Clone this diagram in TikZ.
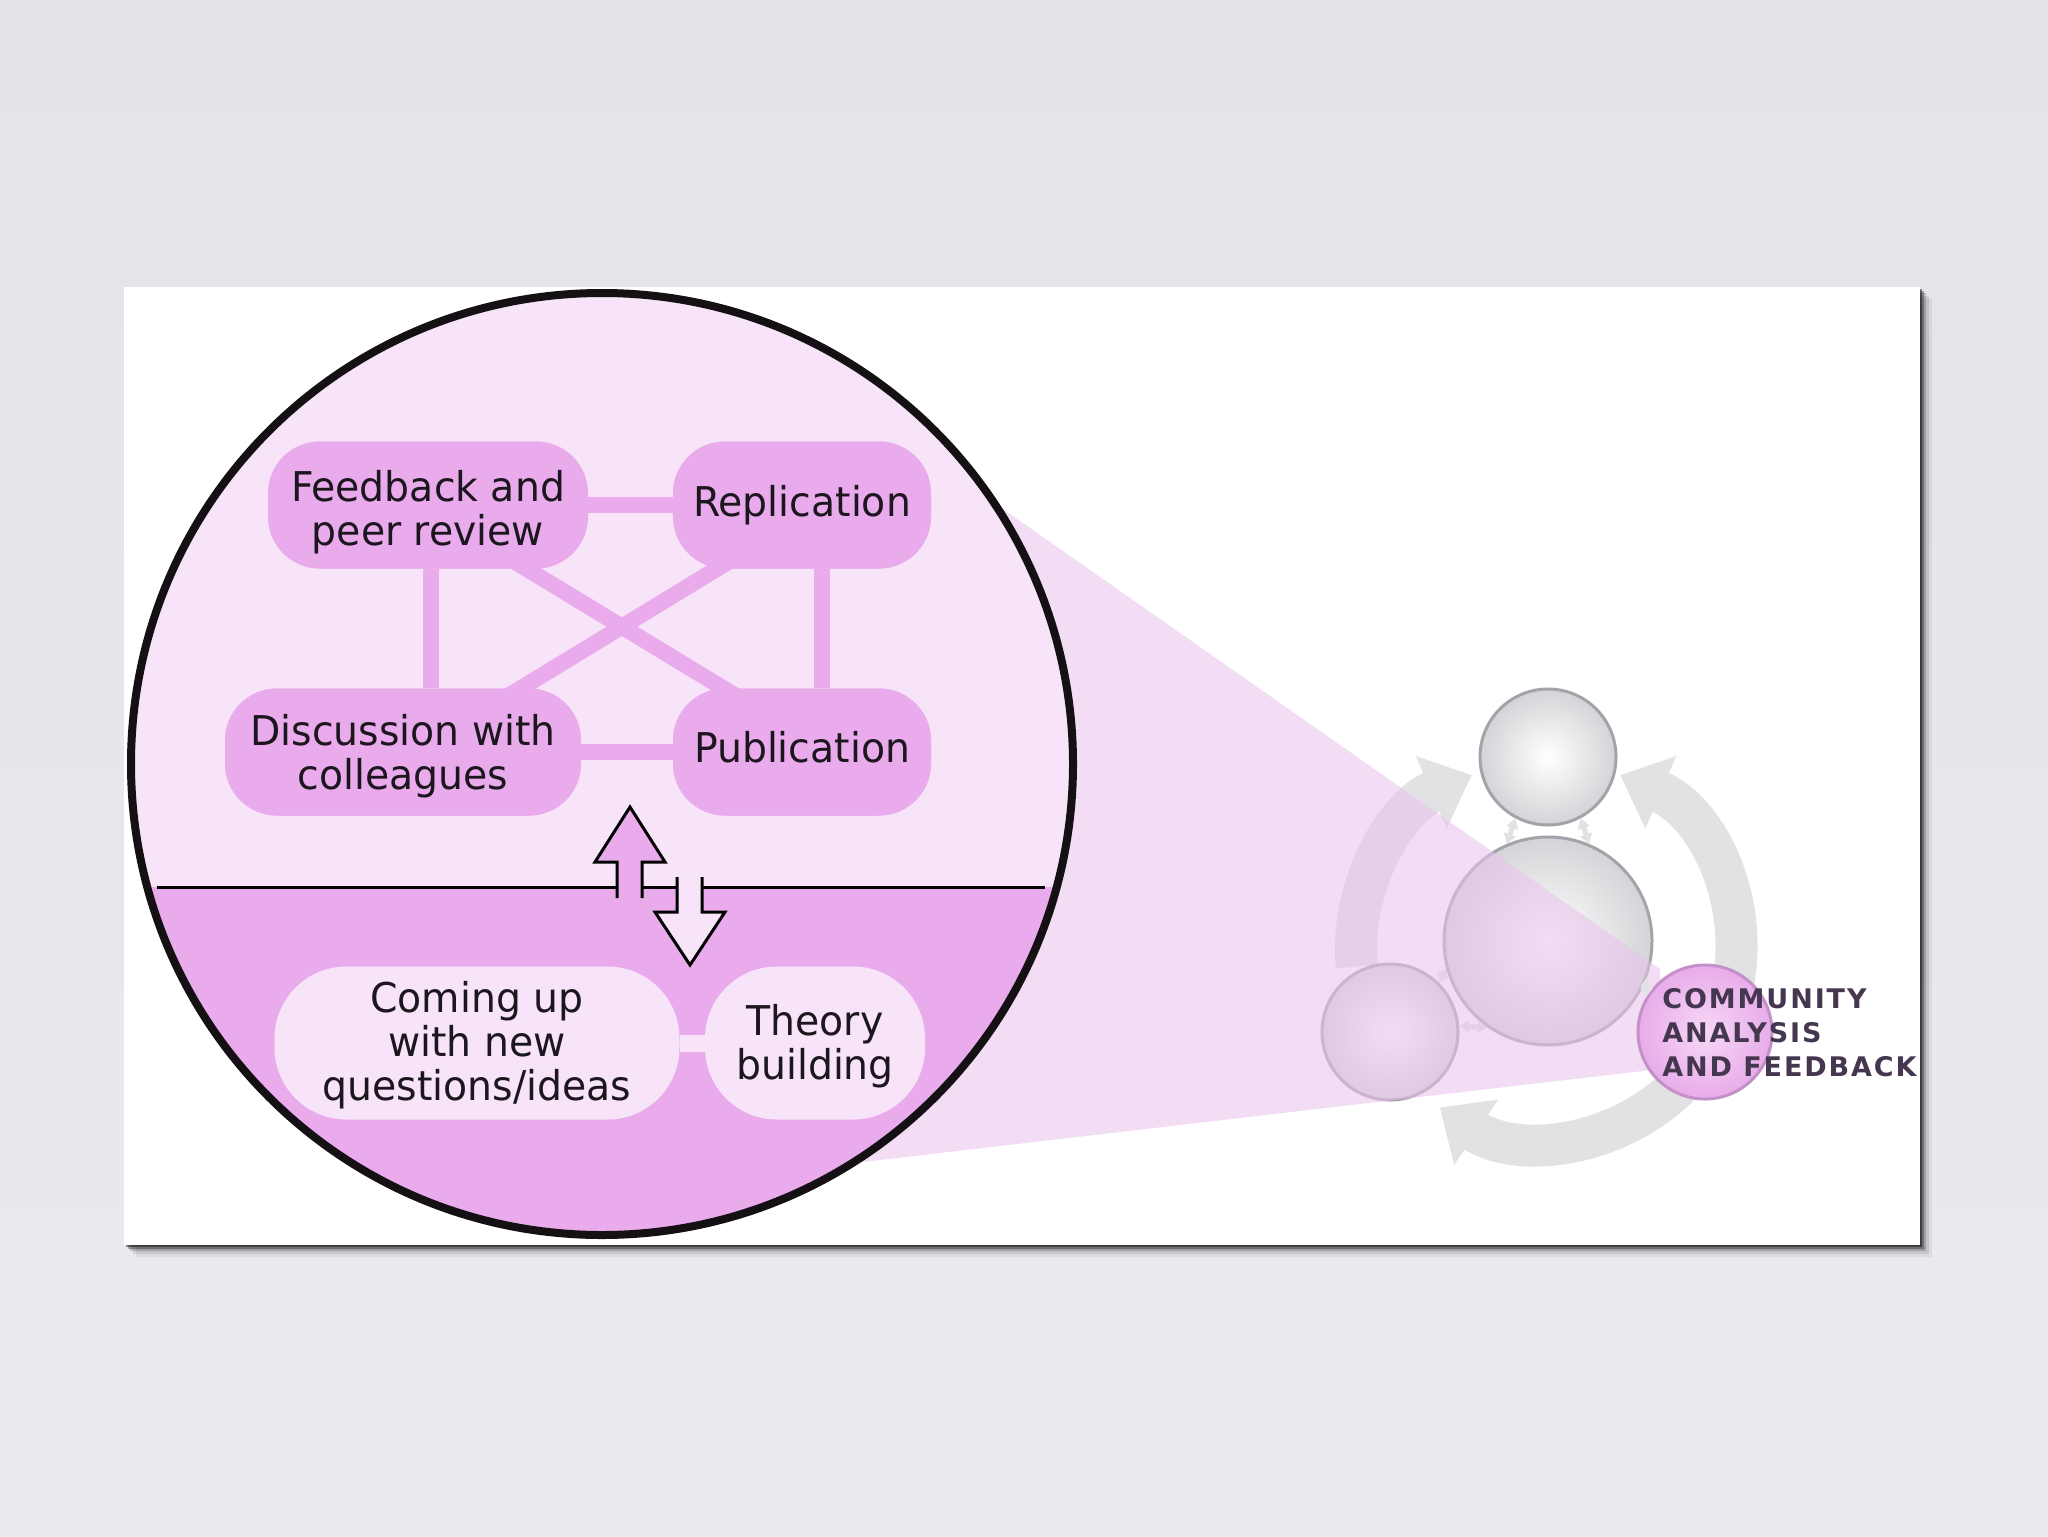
\documentclass[tikz,border=0pt]{standalone}
\usepackage{fontspec}
\setmainfont[FakeStretch=0.96]{DejaVu Sans}
\newfontfamily\labfont[LetterSpace=7]{DejaVu Sans}
\usetikzlibrary{arrows.meta,calc}
\definecolor{pinkD}{RGB}{234,171,236}
\definecolor{pinkL}{RGB}{247,228,248}
\definecolor{txt}{RGB}{28,22,30}
\definecolor{ringc}{RGB}{226,226,229}
\definecolor{wedgec}{RGB}{234,194,237}
\definecolor{circline}{RGB}{165,163,170}
\definecolor{labc}{RGB}{70,55,80}
\definecolor{bgT}{RGB}{226,228,232}
\definecolor{bgM}{RGB}{239,240,243}
\definecolor{bgB}{RGB}{233,235,238}
\definecolor{ballout}{RGB}{212,212,216}
\definecolor{comIn}{RGB}{246,215,246}
\definecolor{comOut}{RGB}{232,172,234}
\definecolor{comLine}{RGB}{195,145,200}
\newcommand{\mylbl}[2]{\raisebox{#1}[\height][\depth]{\begin{tabular}{@{}c@{}}#2\end{tabular}}}
\begin{document}
\begin{tikzpicture}[x=0.5pt,y=-0.5pt,
  upbox/.style={fill=pinkD, rounded corners=26pt, minimum height=63.5pt, text=txt, font=\fontsize{20.5}{21.5}\selectfont, inner sep=0pt},
  lowbox/.style={fill=pinkL, rounded corners=36pt, minimum height=76.5pt, text=txt, font=\fontsize{20.5}{21.5}\selectfont, inner sep=0pt},
  conn/.style={draw=pinkD, line width=8pt},
  lconn/.style={draw=pinkL, line width=8.5pt},
  ring/.style={draw=ringc, line width=21pt, -{Triangle[length=22pt,width=38pt]}},
  gball/.style={circle, draw=circline, line width=1.5pt, inner color=white, outer color=ballout, inner sep=0pt},
  smallarr/.style={draw=ringc, line width=2.5pt, {Triangle[length=5pt,width=6pt]}-{Triangle[length=5pt,width=6pt]}},
  bigarrow/.style={draw=black, line width=1.5pt, line join=miter},
]
\useasboundingbox (0,0) rectangle (2048,1536);
\shade[top color=bgT, middle color=bgM, bottom color=bgB] (0,0) rectangle (2048,1536);
% panel with shadow
\foreach \o/\op in {12/0.06, 9/0.10, 6/0.18, 4/0.3, 2/0.45}
  \fill[black, opacity=\op] (124+\o,287+\o) rectangle (1920+\o,1245+\o);
\fill[white] (124,287) rectangle (1920,1245);
% right diagram
\coordinate (rc) at (1546,950);
\draw[ring] ($(rc)+(175:190)$) arc[start angle=175, end angle=247, radius=190];
\draw[ring] ($(rc)+(380:190)$) arc[start angle=380, end angle=293, radius=190];
\draw[ring] ($(rc)+(42:190)$) arc[start angle=42, end angle=124, radius=190];
\node[gball, minimum size=68pt] (topc) at (1548,757) {};
\node[gball, minimum size=104pt] (cenc) at (1548,941) {};
\node[gball, minimum size=68pt] (blc) at (1390,1032) {};
\draw[smallarr] (topc.-118) -- (cenc.113);
\draw[smallarr] (topc.-62) -- (cenc.67);
\draw[smallarr] (cenc.195) -- (blc.45);
\draw[smallarr] (cenc.235) -- (blc.5);
% wedge
\fill[wedgec, opacity=0.55] (900,437) -- (1660,969) -- (1660,1069) -- (700,1181) -- cycle;
\node[circle, minimum size=67pt, draw=comLine, line width=1.5pt, inner color=comIn, outer color=comOut, inner sep=0pt] (comc) at (1705,1032) {};
\draw[smallarr] (cenc.-20) -- (comc.150);
\node[anchor=west, align=left, text=labc, inner sep=0pt, font=\labfont\bfseries\fontsize{13.5}{17}\selectfont] (lab) at (1662,1033) {COMMUNITY\\ANALYSIS\\AND FEEDBACK};
% big circle
\coordinate (bc) at (602,764);
\begin{scope}
\clip (bc) circle[radius=471];
\fill[pinkL] (100,250) rectangle (1100,887);
\fill[pinkD] (100,887) rectangle (1100,1260);
\end{scope}
\coordinate (chL) at (157,887);
\coordinate (chR) at (1045,887);
\draw[line width=1.5pt] (chL) -- (chR);
% upper nodes (shapes first, for connector anchors)
\node[upbox, minimum width=160pt] (fb) at (428,505) {};
\node[upbox, minimum width=129pt] (rep) at (802,505) {};
\node[upbox, minimum width=178pt] (disc) at (403,752) {};
\node[upbox, minimum width=129pt] (pub) at (802,752) {};
\draw[conn] (fb.east) -- (rep.west);
\draw[conn] (disc.east) -- (pub.west);
\draw[conn] ([xshift=1.5pt]fb.south) -- ([xshift=1.5pt]fb.south |- disc.north);
\draw[conn] ([xshift=10pt]rep.south) -- ([xshift=10pt]pub.north);
\draw[conn] ([yshift=-2pt]fb.center) -- ([yshift=8pt]pub.center);
\draw[conn] ([yshift=-6pt]rep.center) -- ([yshift=-4pt]disc.center);
% boxes with text on top of connectors
\node[upbox, minimum width=160pt] at (fb) {\mylbl{-4.5pt}{Feedback and\\peer review}};
\node[upbox, minimum width=129pt] at (rep) {\mylbl{-1.2pt}{Replication}};
\node[upbox, minimum width=178pt] at (disc) {\mylbl{-3.3pt}{Discussion with\\colleagues}};
\node[upbox, minimum width=129pt] at (pub) {\mylbl{-0.8pt}{Publication}};
% lower nodes
\node[lowbox, minimum width=202.5pt] (come) at (477,1043) {\mylbl{-2pt}{Coming up\\with new\\questions/ideas}};
\node[lowbox, minimum width=110pt] (theory) at (815,1043) {\mylbl{-2.6pt}{Theory\\building}};
\draw[lconn] (come.east) -- (theory.west);
% double arrow
\fill[pinkD] (617,898) -- (617,862) -- (595,862) -- (630,807) -- (665,862) -- (642,862) -- (642,898) -- cycle;
\draw[bigarrow] (617,898) -- (617,862) -- (595,862) -- (630,807) -- (665,862) -- (642,862) -- (642,898);
\fill[pinkL] (677,877) -- (677,912) -- (655,912) -- (690,965) -- (725,912) -- (702,912) -- (702,877) -- cycle;
\draw[bigarrow] (677,877) -- (677,912) -- (655,912) -- (690,965) -- (725,912) -- (702,912) -- (702,877);
% outline
\draw[line width=4pt, draw={rgb,255:red,20;green,16;blue,20}] (bc) circle[radius=471];
\end{tikzpicture}
\end{document}
